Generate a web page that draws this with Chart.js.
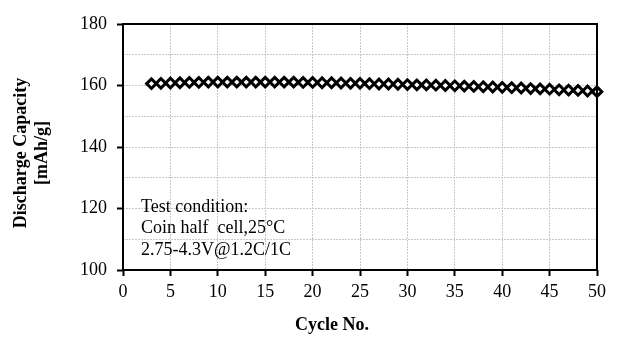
<!DOCTYPE html>
<html>
<head>
<meta charset="utf-8">
<script src="https://cdn.jsdelivr.net/npm/chart.js@4/dist/chart.umd.min.js"></script>
<style>
  html, body { margin: 0; padding: 0; background: #ffffff; }
  #wrap { width: 619px; height: 337px; position: relative; }
</style>
</head>
<body>
<div id="wrap"><canvas id="c" width="619" height="337"></canvas></div>
<script>
// ---- Data ----
const cycles = [3,4,5,6,7,8,9,10,11,12,13,14,15,16,17,18,19,20,21,22,23,24,25,26,27,28,29,30,31,32,33,34,35,36,37,38,39,40,41,42,43,44,45,46,47,48,49,50];
const capacity = [160.6,160.7,160.8,160.9,161.0,161.0,161.1,161.1,161.1,161.1,161.1,161.1,161.1,161.1,161.1,161.1,161.0,161.0,160.9,160.9,160.8,160.7,160.7,160.6,160.5,160.5,160.4,160.3,160.2,160.2,160.1,160.0,159.9,159.8,159.7,159.6,159.5,159.4,159.3,159.2,159.0,158.9,158.8,158.6,158.5,158.4,158.2,158.0];
const xTitle = 'Cycle No.';
const yTitleLines = ['Discharge Capacity', '[mAh/g]'];
const noteLines = ['Test condition:', 'Coin half  cell,25°C', '2.75-4.3V@1.2C/1C'];

const SERIF = "'Liberation Serif', 'Times New Roman', serif";

const frameAndText = {
  id: 'frameAndText',
  afterDraw(chart) {
    const ctx = chart.ctx;
    const a = chart.chartArea;
    ctx.save();
    // frame
    ctx.strokeStyle = '#000';
    ctx.lineWidth = 2;
    ctx.strokeRect(a.left, a.top, a.right - a.left, a.bottom - a.top);
    ctx.fillStyle = '#000';
    // note text
    ctx.font = '18px ' + SERIF;
    ctx.textAlign = 'left';
    ctx.textBaseline = 'middle';
    const nx = a.left + 18;
    const ny = [207, 228.5, 250];
    noteLines.forEach((t, i) => ctx.fillText(t, nx, ny[i]));
    // x title
    ctx.font = 'bold 18px ' + SERIF;
    ctx.textAlign = 'center';
    ctx.fillText(xTitle, 332, 325);
    // y title
    ctx.translate(0, 153);
    ctx.rotate(-Math.PI / 2);
    ctx.fillText(yTitleLines[0], 0, 21);
    ctx.fillText(yTitleLines[1], 0, 42);
    ctx.restore();
  }
};

new Chart(document.getElementById('c'), {
  type: 'scatter',
  data: {
    datasets: [{
      label: 'Discharge Capacity',
      data: cycles.map((c, i) => ({ x: c, y: capacity[i] })),
      showLine: false,
      pointStyle: 'rectRot',
      pointRadius: 4.8,
      pointHoverRadius: 4.8,
      pointBorderWidth: 3,
      pointBorderColor: '#000',
      pointBackgroundColor: '#fff',
      clip: false
    }]
  },
  options: {
    responsive: false,
    animation: false,
    devicePixelRatio: 1,
    layout: { padding: { top: 24, right: 22, left: 0, bottom: 0 } },
    plugins: { legend: { display: false }, tooltip: { enabled: false }, title: { display: false } },
    scales: {
      x: {
        type: 'linear',
        min: 0, max: 50,
        afterFit(s) { s.height = 67; },
        ticks: { stepSize: 5, color: '#000', padding: 5, font: { family: SERIF, size: 18 }, maxRotation: 0 },
        grid: { color: '#c8c8c8', lineWidth: 1, tickLength: 6, tickColor: '#000', tickWidth: 2 },
        border: { display: false, dash: [2, 1] },
        title: { display: false }
      },
      y: {
        min: 100, max: 180,
        afterFit(s) { s.width = 123; },
        ticks: {
          stepSize: 10, color: '#000', padding: 10,
          font: { family: SERIF, size: 18 },
          callback: (v) => (v % 20 === 0 ? String(v) : '')
        },
        grid: {
          color: '#c8c8c8', lineWidth: 1, tickLength: 6, tickWidth: 2,
          tickColor: (ctx) => (ctx.tick && ctx.tick.value % 20 === 0 ? '#000' : 'rgba(0,0,0,0)')
        },
        border: { display: false, dash: [2, 1] },
        title: { display: false }
      }
    }
  },
  plugins: [frameAndText]
});
</script>
</body>
</html>
